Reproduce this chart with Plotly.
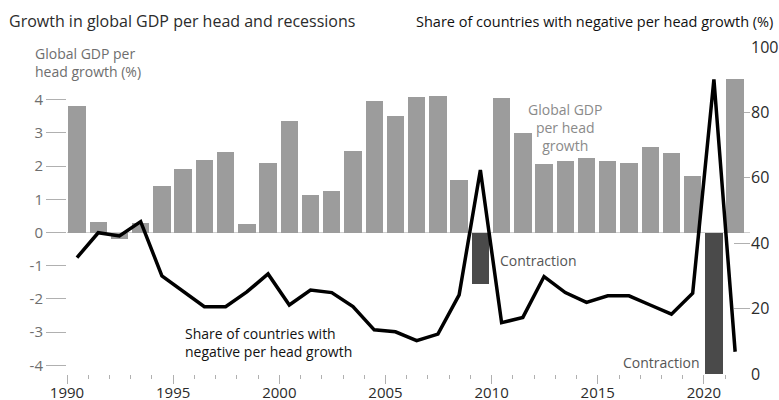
import plotly.graph_objects as go

FONT = "Open Sans, sans-serif"
BAR_GREY = "#9c9c9c"
BAR_DARK = "#4a4a4a"
TEXT_DARK = "#2b2b2b"
TEXT_GREY = "#6e6e6e"
TICK_GREY = "#b0b0b0"

years = list(range(1990, 2022))
gdp_growth = [
    3.80, 0.31, -0.20, 0.28, 1.41, 1.92, 2.19, 2.44, 0.25, 2.11,
    3.36, 1.14, 1.26, 2.47, 3.95, 3.50, 4.08, 4.12, 1.59, -1.55,
    4.05, 3.01, 2.06, 2.17, 2.26, 2.17, 2.11, 2.59, 2.39, 1.69,
    -4.26, 4.62,
]
share_negative = [
    35.6, 43.2, 42.2, 46.6, 30.0, 25.3, 20.6, 20.6, 25.1, 30.6,
    21.1, 25.7, 24.9, 20.6, 13.5, 12.9, 10.2, 12.2, 24.2, 62.4,
    15.7, 17.3, 29.8, 24.9, 21.9, 23.9, 23.9, 21.1, 18.3, 24.7,
    90.1, 6.8,
]
contraction_years = [2009, 2020]

left_ticks = [-4, -3, -2, -1, 0, 1, 2, 3, 4]
right_ticks = [0, 20, 40, 60, 80, 100]
major_years = [1990, 1995, 2000, 2005, 2010, 2015, 2020]
minor_years = [y for y in range(1991, 2022) if y % 5 != 0]

# bars and line sit in the middle of each year
x_mid = [y + 0.47 for y in years]
bar_colors = [BAR_DARK if y in contraction_years else BAR_GREY for y in years]

fig = go.Figure()
fig.add_trace(go.Bar(
    x=x_mid, y=gdp_growth, width=0.82,
    marker=dict(color=bar_colors, line=dict(width=0)),
    yaxis="y", showlegend=False,
))
fig.add_trace(go.Scatter(
    x=x_mid, y=share_negative, mode="lines",
    line=dict(color="black", width=3.5),
    yaxis="y2", showlegend=False,
))

fig.update_layout(
    width=779, height=400,
    margin=dict(l=67, r=29, t=47, b=26),
    plot_bgcolor="rgba(0,0,0,0)", paper_bgcolor="white",
    font=dict(family=FONT, color=TEXT_DARK, size=14),
    xaxis=dict(
        range=[1990, 2022.17], showgrid=False, zeroline=False, showline=False,
        automargin=False,
        tickmode="array", tickvals=major_years,
        ticks="outside", ticklen=9, tickcolor=TICK_GREY, tickwidth=1,
        ticklabelstandoff=-4,
        tickfont=dict(size=15, color=TEXT_DARK),
        minor=dict(tickmode="array", tickvals=minor_years, ticks="outside",
                   ticklen=4, tickcolor=TICK_GREY, tickwidth=1),
    ),
    yaxis=dict(
        range=[-4.26, 5.59], showgrid=False, showline=False, automargin=False,
        zeroline=True, zerolinecolor="#cfcfcf", zerolinewidth=1,
        tickmode="array", tickvals=left_ticks,
        ticktext=[str(v) for v in left_ticks],
        ticks="outside", ticklen=20, tickcolor=TICK_GREY, tickwidth=1,
        tickfont=dict(size=15, color=TEXT_GREY),
    ),
    yaxis2=dict(
        range=[0, 100], overlaying="y", side="right", automargin=False,
        showgrid=False, zeroline=False, showline=False,
        tickmode="array", tickvals=right_ticks,
        ticks="inside", ticklen=16, tickcolor=TICK_GREY, tickwidth=1,
        tickfont=dict(size=16, color=TEXT_DARK),
        layer="below traces",
    ),
    bargap=0,
)

annotations = [
    dict(text="Growth in global GDP per head and recessions",
         xref="paper", yref="paper", x=-0.088, y=1.0795,
         xanchor="left", yanchor="middle", font=dict(size=16, color=TEXT_DARK)),
    dict(text="Share of countries with negative per head growth (%)",
         xref="paper", yref="paper", x=1.0366, y=1.0765,
         xanchor="right", yanchor="middle", font=dict(size=14.5, color="#111111")),
    dict(text="Global GDP per<br>head growth (%)",
         xref="paper", yref="paper", x=-0.0498, y=0.9526, align="left",
         xanchor="left", yanchor="middle", font=dict(size=14, color=TEXT_GREY)),
    dict(text="Global GDP<br>per head<br>growth",
         xref="x", yref="y2", x=2013.46, y=75.4, align="center",
         xanchor="center", yanchor="middle", font=dict(size=14, color="#8a8a8a")),
    dict(text="Contraction", xref="x", yref="y2", x=2010.3, y=34.8,
         xanchor="left", yanchor="middle", font=dict(size=14, color="#555555")),
    dict(text="Contraction", xref="x", yref="y2", x=2019.91, y=3.4,
         xanchor="right", yanchor="middle", font=dict(size=14, color="#555555")),
    dict(text="Share of countries with<br>negative per head growth",
         xref="x", yref="y2", x=1995.46, y=9.6, align="left",
         xanchor="left", yanchor="middle", font=dict(size=14, color="#111111")),
]
for a in annotations:
    a["showarrow"] = False
fig.update_layout(annotations=annotations)

# the page's default body margin would push the figure off by 8px
fig.write_html("out.html", config={"displayModeBar": False},
               post_script="document.body.style.margin='0';")
